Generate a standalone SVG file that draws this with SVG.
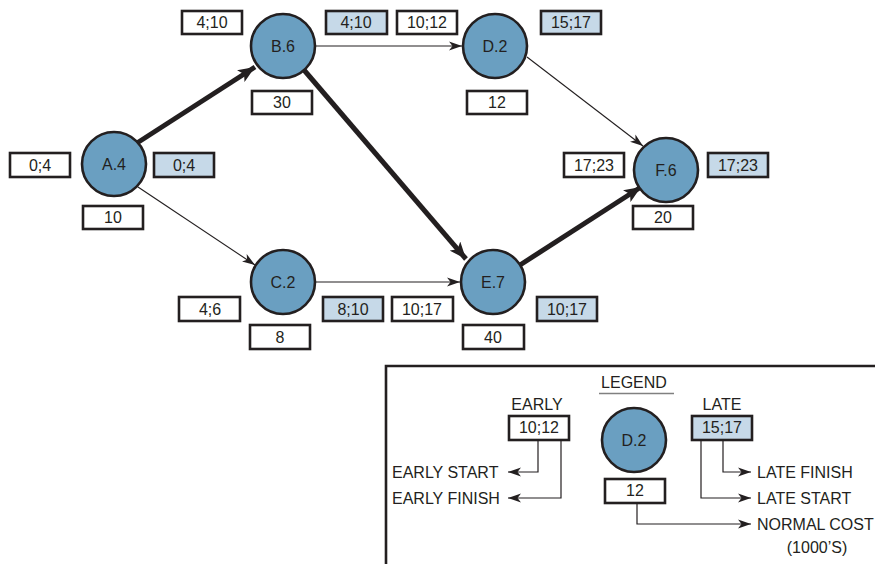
<svg xmlns="http://www.w3.org/2000/svg" width="875" height="564" viewBox="0 0 875 564">
<style>
text{font-family:"Liberation Sans",Arial,sans-serif;font-size:16px;fill:#231f20}
.c{text-anchor:middle}
.node circle{fill:#6a9fc1;stroke:#231f20;stroke-width:2.6}
.bx{fill:#fff;stroke:#231f20;stroke-width:2.6}
.bl{fill:#c6d9e8;stroke:#231f20;stroke-width:2.6}
.thin{stroke:#231f20;stroke-width:1.1;fill:none}
.thick{stroke:#231f20;stroke-width:5;fill:none}
.leg{stroke:#231f20;stroke-width:1.2;fill:none}
</style>
<defs>
<marker id="ah" markerUnits="userSpaceOnUse" markerWidth="14" markerHeight="10" refX="13" refY="5" orient="auto">
<path d="M0,0.5 L13,5 L0,9.5 L3.5,5 z" fill="#231f20"/>
</marker>
<marker id="ahb" markerUnits="userSpaceOnUse" markerWidth="18" markerHeight="14" refX="17" refY="7" orient="auto">
<path d="M0,0 L17,7 L0,14 L4,7 z" fill="#231f20"/>
</marker>
</defs>

<g id="connectors">
<line class="thick" x1="137" y1="143" x2="255" y2="67" marker-end="url(#ahb)"/>
<line class="thick" x1="304" y1="70" x2="466" y2="259" marker-end="url(#ahb)"/>
<line class="thick" x1="520" y1="265" x2="641" y2="187" marker-end="url(#ahb)"/>
<line class="thin" x1="138" y1="187" x2="255" y2="265" marker-end="url(#ah)"/>
<line class="thin" x1="315" y1="46" x2="462" y2="46" marker-end="url(#ah)"/>
<line class="thin" x1="316" y1="282" x2="460" y2="282" marker-end="url(#ah)"/>
<line class="thin" x1="527" y1="57" x2="643" y2="146" marker-end="url(#ah)"/>
</g>

<g id="A" class="node">
<circle cx="114" cy="164" r="32"/>
<text class="c" x="114" y="170">A.4</text>
<rect class="bx" x="10" y="153" width="60" height="24"/><text class="c" x="40" y="171">0;4</text>
<rect class="bl" x="154" y="153" width="60" height="24"/><text class="c" x="184" y="171">0;4</text>
<rect class="bx" x="83" y="206" width="60" height="23"/><text class="c" x="113" y="223">10</text>
</g>

<g id="B" class="node">
<circle cx="283" cy="46" r="32"/>
<text class="c" x="283" y="52">B.6</text>
<rect class="bx" x="182" y="11" width="60" height="23"/><text class="c" x="212" y="28">4;10</text>
<rect class="bl" x="326" y="11" width="61" height="23"/><text class="c" x="356" y="28">4;10</text>
<rect class="bx" x="252" y="91" width="60" height="23"/><text class="c" x="282" y="108">30</text>
</g>

<g id="D" class="node">
<circle cx="495" cy="46" r="32"/>
<text class="c" x="495" y="52">D.2</text>
<rect class="bx" x="397" y="11" width="60" height="23"/><text class="c" x="427" y="28">10;12</text>
<rect class="bl" x="541" y="11" width="60" height="23"/><text class="c" x="571" y="28">15;17</text>
<rect class="bx" x="467" y="91" width="60" height="23"/><text class="c" x="497" y="108">12</text>
</g>

<g id="F" class="node">
<circle cx="666" cy="170" r="32"/>
<text class="c" x="666" y="176">F.6</text>
<rect class="bx" x="564" y="153" width="60" height="24"/><text class="c" x="594" y="171">17;23</text>
<rect class="bl" x="708" y="153" width="60" height="24"/><text class="c" x="738" y="171">17;23</text>
<rect class="bx" x="633" y="206" width="60" height="23"/><text class="c" x="663" y="223">20</text>
</g>

<g id="C" class="node">
<circle cx="283" cy="282" r="32"/>
<text class="c" x="283" y="288">C.2</text>
<rect class="bx" x="179" y="297" width="61" height="24"/><text class="c" x="210" y="315">4;6</text>
<rect class="bl" x="323" y="297" width="60" height="24"/><text class="c" x="353" y="315">8;10</text>
<rect class="bx" x="250" y="325" width="60" height="24"/><text class="c" x="280" y="343">8</text>
</g>

<g id="E" class="node">
<circle cx="493" cy="282" r="32"/>
<text class="c" x="493" y="288">E.7</text>
<rect class="bx" x="392" y="297" width="61" height="24"/><text class="c" x="422" y="315">10;17</text>
<rect class="bl" x="537" y="297" width="60" height="24"/><text class="c" x="567" y="315">10;17</text>
<rect class="bx" x="463" y="325" width="61" height="24"/><text class="c" x="493" y="343">40</text>
</g>

<g id="legend">
<path d="M386,566 V366 H877" fill="none" stroke="#231f20" stroke-width="2.6"/>
<text class="c" x="634" y="388">LEGEND</text>
<line x1="599" y1="393.5" x2="674" y2="393.5" stroke="#808080" stroke-width="1.5"/>
<text class="c" x="537" y="410">EARLY</text>
<text class="c" x="722" y="410">LATE</text>
<g class="node"><circle cx="634" cy="440" r="32"/></g>
<text class="c" x="634" y="446">D.2</text>
<rect class="bx" x="509" y="416" width="60" height="24"/><text class="c" x="539" y="433">10;12</text>
<rect class="bl" x="692" y="416" width="60" height="24"/><text class="c" x="722" y="433">15;17</text>
<rect class="bx" x="605" y="479" width="60" height="24"/><text class="c" x="635" y="496">12</text>
<path class="leg" d="M538,440 V472 H508" marker-end="url(#ah)"/>
<path class="leg" d="M561,440 V498 H508" marker-end="url(#ah)"/>
<path class="leg" d="M723,440 V472 H751" marker-end="url(#ah)"/>
<path class="leg" d="M701,440 V498 H751" marker-end="url(#ah)"/>
<path class="leg" d="M637,503 V524 H751" marker-end="url(#ah)"/>
<text x="392" y="478">EARLY START</text>
<text x="392" y="504">EARLY FINISH</text>
<text x="757" y="478">LATE FINISH</text>
<text x="757" y="504">LATE START</text>
<text x="757" y="530">NORMAL COST</text>
<text class="c" x="817" y="553">(1000’S)</text>
</g>
</svg>
